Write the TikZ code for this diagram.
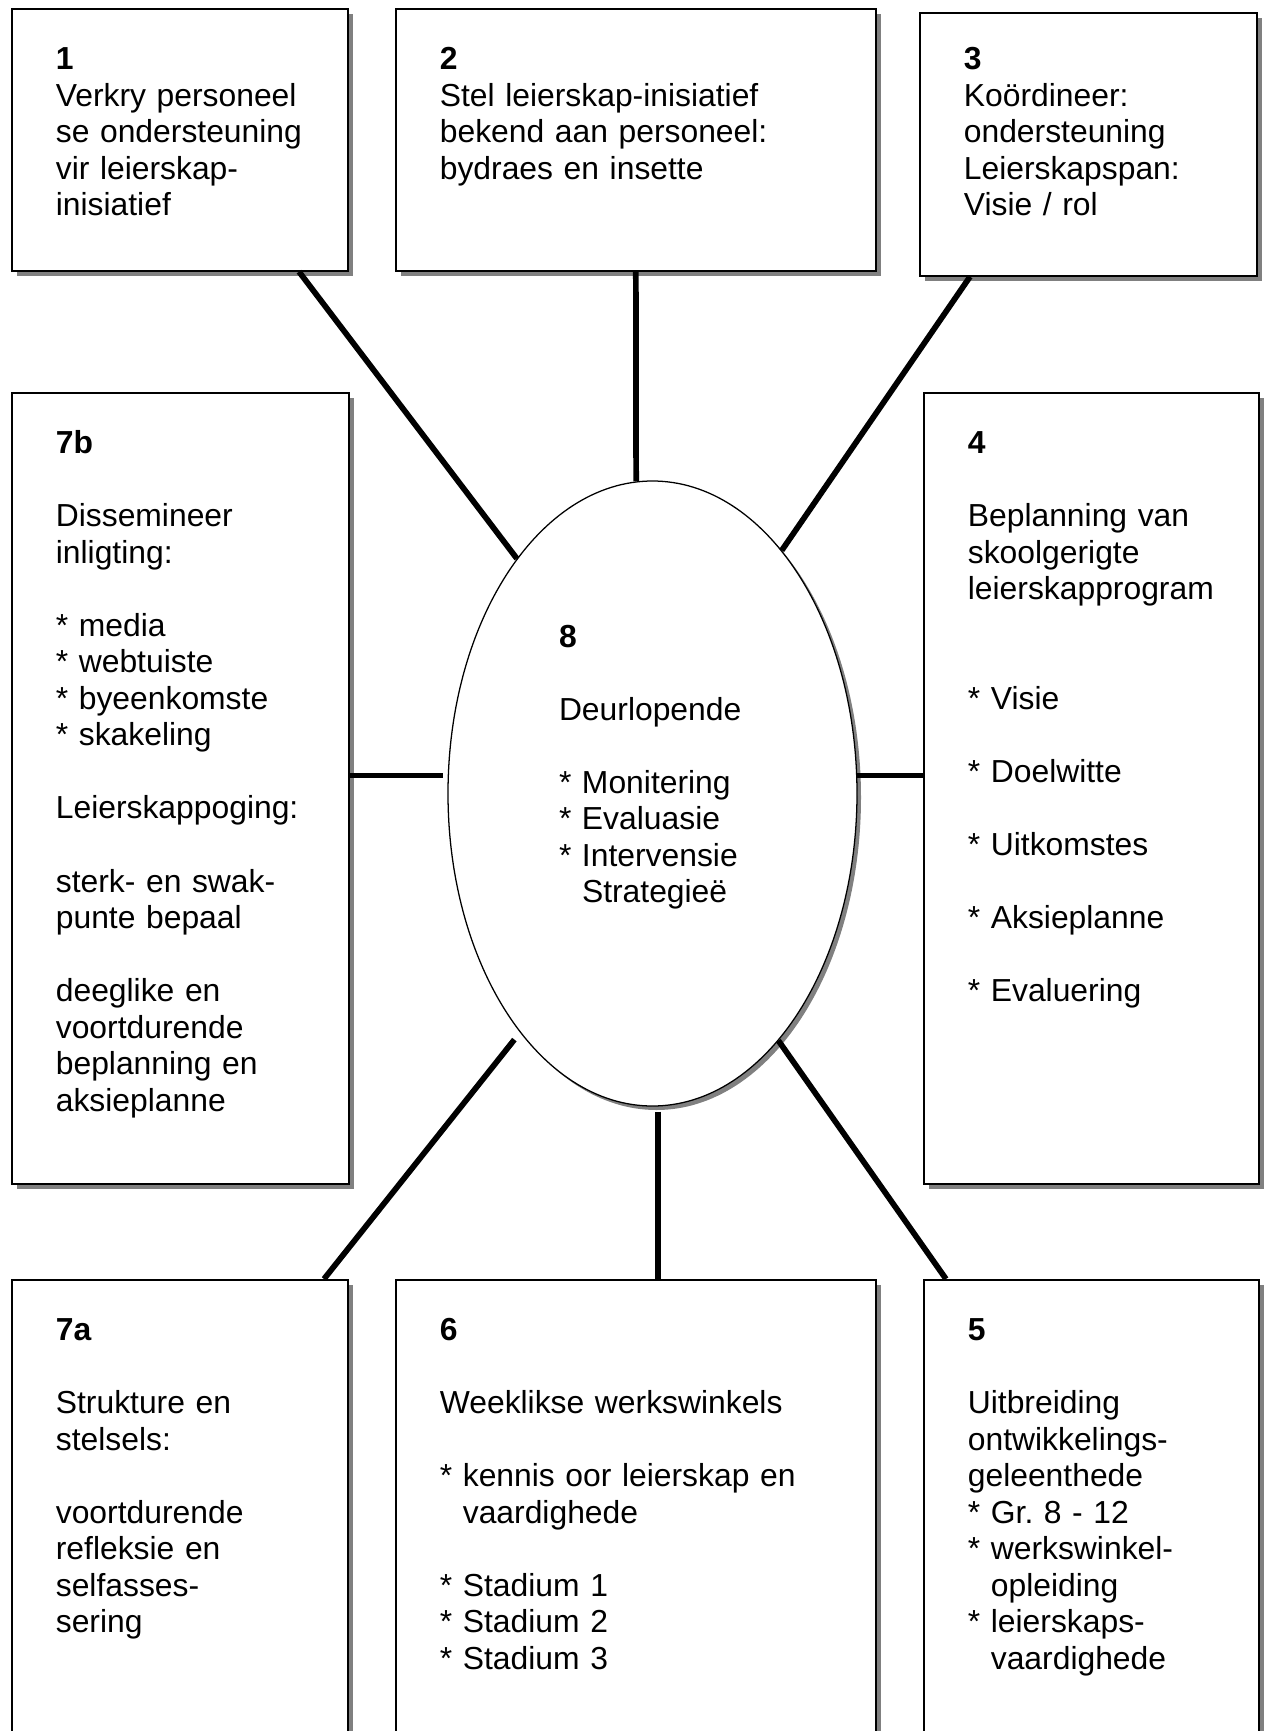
\documentclass[tikz,border=0pt]{standalone}
\usepackage{fontspec}
\setmainfont{Liberation Sans}
\usepackage{tikz}
\usetikzlibrary{
  shapes.geometric,
  shadows,
  calc
}
\definecolor{ShadowGray}{RGB}{128, 128, 128}
\newdimen\px
\px=0.016562cm
\tikzset{
    infobox/.style={
        draw, line width=0.8pt, fill=white, anchor=north west,
        inner xsep=0pt, inner ysep=0pt, align=left, text height=61\px,
        font=\fontsize{15}{17.2}\selectfont,
        execute at begin node={\leftskip=44\px},
        drop shadow={shadow xshift=5\px, shadow yshift=-5\px, fill=ShadowGray, opacity=1}
    },
    hubellipse/.style={
        ellipse, draw, line width=0.6pt, fill=white,
        minimum width=409\px, minimum height=625\px,
        text width=187\px, align=left, text height=22\px, text depth=315\px,
        font=\fontsize{15}{17.2}\selectfont,
        drop shadow={shadow xshift=4\px, shadow yshift=-4\px, fill=ShadowGray, opacity=1}
    },
    spoke/.style={line width=2.7pt}
}

\begin{document}
\begin{tikzpicture}[x=\px, y=-\px]
            \useasboundingbox (0,0) rectangle (1268,1731);

            \node[infobox, text width=336\px, text depth=201\px] (b1) at (11,8) {
                \textbf{1}\\
                Verkry personeel\\
                se ondersteuning\\
                vir leierskap-\\
                inisiatief};
            \node[infobox, text width=480\px, text depth=201\px] (b2) at (395,8) {
                \textbf{2}\\
                Stel leierskap-inisiatief\\
                bekend aan personeel:\\
                bydraes en insette};
            \node[infobox, text width=337\px, text depth=206\px, text height=57\px] (b3) at (919,12) {
                \textbf{3}\\
                Koördineer:\\
                ondersteuning\\
                Leierskapspan:\\
                Visie / rol};

            \node[infobox, text width=337\px, text depth=730\px] (b7b) at (11,392) {
                \textbf{7b}\\[\baselineskip]
                Dissemineer\\
                inligting:\\[\baselineskip]
                {*} media\\
                {*} webtuiste\\
                {*} byeenkomste\\
                {*} skakeling\\[\baselineskip]
                Leierskappoging:\\[\baselineskip]
                sterk- en swak-\\
                punte bepaal\\[\baselineskip]
                deeglike en\\
                voortdurende\\
                beplanning en\\
                aksieplanne};
            \node[infobox, text width=335\px, text depth=730\px] (b4) at (923,392) {
                \textbf{4}\\[\baselineskip]
                Beplanning van\\
                skoolgerigte\\
                leierskapprogram\\[2\baselineskip]
                {*} Visie\\[\baselineskip]
                {*} Doelwitte\\[\baselineskip]
                {*} Uitkomstes\\[\baselineskip]
                {*} Aksieplanne\\[\baselineskip]
                {*} Evaluering};

            \node[infobox, text width=336\px, text depth=440\px] (b7a) at (11,1279) {
                \textbf{7a}\\[\baselineskip]
                Strukture en\\
                stelsels:\\[\baselineskip]
                voortdurende\\
                refleksie en\\
                selfasses-\\
                sering};
            \node[infobox, text width=480\px, text depth=440\px] (b6) at (395,1279) {
                \textbf{6}\\[\baselineskip]
                Weeklikse werkswinkels\\[\baselineskip]
                {*} kennis oor leierskap en\\
                \hphantom{* }vaardighede\\[\baselineskip]
                {*} Stadium 1\\
                {*} Stadium 2\\
                {*} Stadium 3};
            \node[infobox, text width=335\px, text depth=440\px] (b5) at (923,1279) {
                \textbf{5}\\[\baselineskip]
                Uitbreiding\\
                ontwikkelings-\\
                geleenthede\\
                {*} Gr.\ 8 - 12\\
                {*} werkswinkel-\\
                \hphantom{* }opleiding\\
                {*} leierskaps-\\
                \hphantom{* }vaardighede};

            \node[hubellipse] (ctr) at (652.5,793.5) {
                \textbf{8}\\[\baselineskip]
                Deurlopende\\[\baselineskip]
                {*} Monitering\\
                {*} Evaluasie\\
                {*} Intervensie\\
                \hphantom{* }Strategieë};

            \draw[spoke] ($(b1.south west)+(288,0)$) -- (ctr.120);
            \draw[spoke] (b2.south) -- (ctr.93);
            \draw[spoke] ($(b3.south west)+(51,0)$) -- (ctr.62);
            \draw[spoke, shorten >=5\px] (b7b.east |- ctr.175) -- (ctr.175);
            \draw[spoke] (ctr.5) -- (ctr.5 -| b4.west);
            \draw[spoke, shorten <=9\px] (ctr.-119) -- ($(b7a.north west)+(313,0)$);
            \draw[spoke, shorten <=5\px] (ctr.-89) -- (ctr.-89 |- b6.north);
            \draw[spoke] (ctr.-63) -- ($(b5.north west)+(23,0)$);
\end{tikzpicture}
\end{document}
